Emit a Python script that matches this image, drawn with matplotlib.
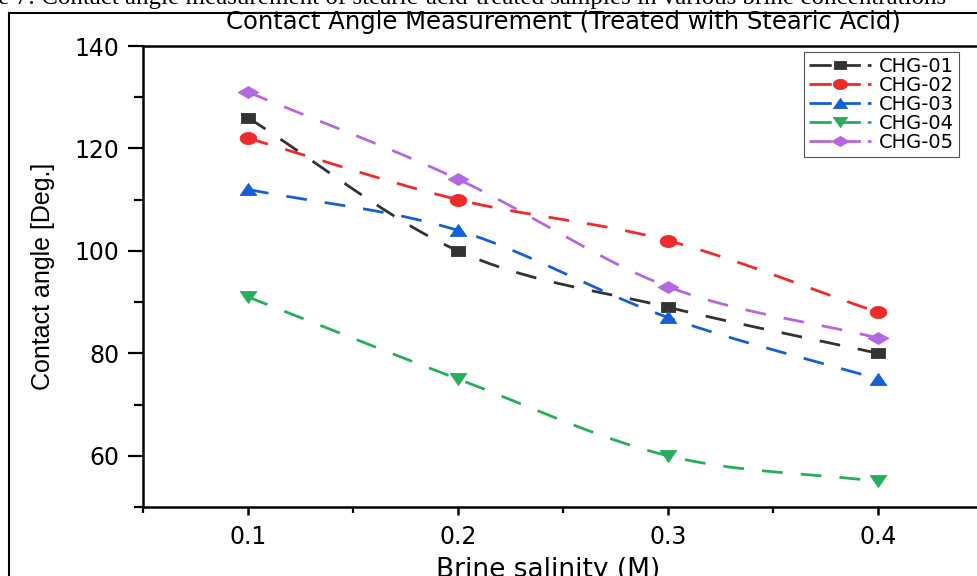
import numpy as np
import matplotlib
matplotlib.use("Agg")
import matplotlib.pyplot as plt
from matplotlib.lines import Line2D

# ---------------- data ----------------
salinity = [0.1, 0.2, 0.3, 0.4]
chg01 = [126, 100, 89, 80]
chg02 = [122, 110, 102, 88]
chg03 = [112, 104, 87, 75]
chg04 = [91, 75, 60, 55]
chg05 = [131, 114, 93, 83]
series_names = ["CHG-01", "CHG-02", "CHG-03", "CHG-04", "CHG-05"]
x_ticks = [0.1, 0.2, 0.3, 0.4]
y_ticks = [60, 80, 100, 120, 140]

title = "Contact Angle Measurement (Treated with Stearic Acid)"
xlabel = "Brine salinity (M)"
ylabel = "Contact angle [Deg.]"
caption = "e 7: Contact angle measurement of stearic-acid-treated samples in various brine concentrations"

# ---------------- style ----------------
colors = ["#333333", "#EE2A2A", "#1560D8", "#27AE5C", "#B468E0"]
sy = 0.72
markers = [
    [(-1, -sy), (1, -sy), (1, sy), (-1, sy), (-1, -sy)],
    [(np.cos(t), sy * np.sin(t)) for t in np.linspace(0, 2 * np.pi, 41)],
    [(-1, -sy), (1, -sy), (0, sy), (-1, -sy)],
    [(-1, sy), (1, sy), (0, -sy), (-1, sy)],
    [(-1, 0), (0, -sy * 0.8), (1, 0), (0, sy * 0.8), (-1, 0)],
]
msizes = [10, 12, 12, 12, 15]


def smooth(xs, ys, n=60):
    """Cubic Hermite curve (Catmull-Rom tangents) through the given points."""
    xs = np.asarray(xs, float)
    ys = np.asarray(ys, float)
    m = np.zeros_like(ys)
    m[1:-1] = (ys[2:] - ys[:-2]) / (xs[2:] - xs[:-2])
    m[0] = (ys[1] - ys[0]) / (xs[1] - xs[0])
    m[-1] = (ys[-1] - ys[-2]) / (xs[-1] - xs[-2])
    px, py = [], []
    for i in range(len(xs) - 1):
        h = xs[i + 1] - xs[i]
        t = np.linspace(0, 1, n, endpoint=(i == len(xs) - 2))
        h00 = 2 * t**3 - 3 * t**2 + 1
        h10 = t**3 - 2 * t**2 + t
        h01 = -2 * t**3 + 3 * t**2
        h11 = t**3 - t**2
        px.append(xs[i] + t * h)
        py.append(h00 * ys[i] + h10 * h * m[i] + h01 * ys[i + 1] + h11 * h * m[i + 1])
    return np.concatenate(px), np.concatenate(py)


plt.rcParams["font.family"] = ["DejaVu Sans"]

W, H = 978, 576
fig = plt.figure(figsize=(W / 100, H / 100), dpi=100)
fig.patch.set_facecolor("white")

ax = fig.add_axes([143 / W, 1 - 507 / H, (983 - 143) / W, (507 - 46) / H])

all_series = [chg01, chg02, chg03, chg04, chg05]
handles = []
for ys, name, c, mk, ms in zip(all_series, series_names, colors, markers, msizes):
    cx, cy = smooth(salinity, ys)
    ax.plot(cx, cy, color=c, lw=2.0, dashes=(7.5, 6.5), dash_capstyle="butt", zorder=2)
    ax.plot(salinity, ys, linestyle="none", marker=mk, markersize=ms, color=c,
            markeredgecolor=c, markeredgewidth=0.6, zorder=3)
    handles.append(Line2D([0], [0], color=c, lw=2.0, dashes=(8, 2.5), marker=mk,
                          markersize=ms * 0.85, markeredgecolor=c, markeredgewidth=0.6,
                          label=name))

ax.set_xlim(0.05, 0.45)
ax.set_ylim(50, 140)
ax.set_xticks(x_ticks)
ax.set_xticklabels([f"{v:.1f}" for v in x_ticks])
ax.set_xticks([0.05, 0.15, 0.25, 0.35, 0.45], minor=True)
ax.set_yticks(y_ticks)
ax.set_yticklabels([str(v) for v in y_ticks])
ax.set_yticks([50, 70, 90, 110, 130], minor=True)

for side in ["left", "bottom", "top"]:
    ax.spines[side].set_linewidth(1.8)
ax.spines["right"].set_visible(False)

ax.tick_params(axis="y", which="major", direction="out", length=11, width=1.6,
               pad=6, labelsize=17)
ax.tick_params(axis="y", which="minor", direction="out", length=6.5, width=1.6)
ax.tick_params(axis="x", which="major", direction="out", length=6, width=1.8,
               pad=7, labelsize=17)
ax.tick_params(axis="x", which="minor", direction="out", length=4, width=1.6)

ax.set_xlabel(xlabel, fontsize=19, va="top")
ax.xaxis.set_label_coords((548 - 143) / 840, (507 - 557) / 461)
ax.set_ylabel(ylabel, fontsize=18, labelpad=14,
              family=["Liberation Sans", "DejaVu Sans"])

fig.text(563 / W, 1 - 22 / H, title, ha="center", va="center", fontsize=17.5)

leg = ax.legend(handles=handles, loc="upper left",
                bbox_to_anchor=(804 / W, 1 - 52 / H), bbox_transform=fig.transFigure,
                fontsize=14, frameon=True, fancybox=False, edgecolor="#555555",
                framealpha=1, handlelength=3.2, handletextpad=0.4,
                labelspacing=0.0, borderpad=0.25, borderaxespad=0)
leg.get_frame().set_linewidth(0.8)

# page frame and cut-off caption from the source document
fig.add_artist(Line2D([9 / W, 9 / W], [0, 1 - 13 / H], transform=fig.transFigure,
                      color="black", lw=1.5))
fig.add_artist(Line2D([9 / W, 1], [1 - 13 / H, 1 - 13 / H], transform=fig.transFigure,
                      color="black", lw=1.5))
fig.text(-2 / W, 1 - 4 / H, caption, ha="left", va="baseline", fontsize=18,
         family=["Liberation Serif", "DejaVu Serif"])

fig.savefig("out.png", dpi=100)
